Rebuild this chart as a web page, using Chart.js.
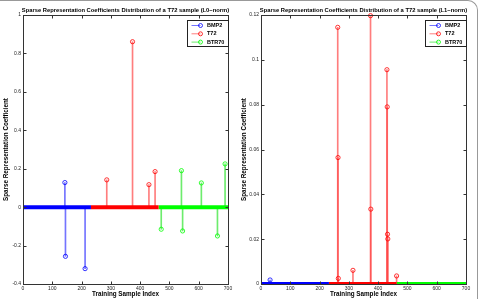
<!DOCTYPE html>
<html lang="en">
<head>
<meta charset="UTF-8">
<title>Sparse Representation Coefficients Distribution</title>
<script src="https://cdn.jsdelivr.net/npm/chart.js"></script>
<style>
  body { margin: 0; background: #fff; }
  .frame { position: relative; width: 478px; height: 299px; overflow: hidden; }
  .panel { position: absolute; top: 0; height: 299px; }
  #left { left: 0; width: 238px; }
  #right { left: 238px; width: 240px; }
  .edge {
    position: absolute; left: -2px; top: 0; width: 479px; height: 310px;
    border-top: 1px solid #999; border-right: 1px solid #999;
    border-top-right-radius: 10px; pointer-events: none;
  }
</style>
</head>
<body>
<div class="frame">
  <div class="panel" id="left"><canvas id="l0Chart"></canvas></div>
  <div class="panel" id="right"><canvas id="l1Chart"></canvas></div>
  <div class="edge"></div>
</div>
<script>
// classes of the training set and their sample index ranges
const classNames = ['BMP2', 'T72', 'BTR70'];
const classColors = ['#0000ff', '#ff0000', '#00ff00'];
const stemColors = ['rgba(70,70,255,0.75)', 'rgba(255,70,70,0.7)', 'rgba(60,230,60,0.75)'];
const classStart = [0, 232, 463];
const classEnd = [232, 463, 700];

// L0-norm solution (non-zero coefficients)
const l0Bmp2X = [143, 145, 212];
const l0Bmp2Y = [0.128, -0.256, -0.32];
const l0T72X = [286, 374, 430, 451];
const l0T72Y = [0.142, 0.861, 0.117, 0.185];
const l0Btr70X = [472, 541, 545, 609, 664, 690];
const l0Btr70Y = [-0.115, 0.19, -0.124, 0.126, -0.15, 0.225];

// L1-norm solution (non-zero coefficients)
const l1Bmp2X = [31];
const l1Bmp2Y = [0.0018];
const l1T72X = [262, 263, 264, 314, 374, 375, 430, 431, 432, 433, 463];
const l1T72Y = [0.1145, 0.0564, 0.0025, 0.0061, 0.1197, 0.0334, 0.0956, 0.079, 0.0222, 0.0201, 0.0036];
const l1Btr70X = [];
const l1Btr70Y = [];

const tickFont = { family: '"Liberation Sans", Arial, sans-serif', size: 5 };
const labelFont = { family: '"Liberation Sans", Arial, sans-serif', size: 6.3, weight: 'bold', lineHeight: 1 };

function pts(xs, ys) {
  return xs.map((x, i) => ({ x: x, y: ys[i] }));
}

// box, inward ticks, title and legend like the matlab figure
const matlabAxes = {
  id: 'matlabAxes',
  afterDraw(chart) {
    const ctx = chart.ctx;
    const a = chart.chartArea;
    const xs = chart.scales.x, ys = chart.scales.y;
    const L = Math.round(a.left) + 0.5, R = Math.round(a.right) + 0.5;
    const T = Math.round(a.top) + 0.5, B = Math.round(a.bottom) + 0.5;
    ctx.save();
    ctx.strokeStyle = '#333';
    ctx.lineWidth = 1;
    ctx.strokeRect(L, T, R - L, B - T);
    ctx.beginPath();
    xs.ticks.forEach(t => {
      const px = Math.round(xs.getPixelForValue(t.value)) + 0.5;
      ctx.moveTo(px, B); ctx.lineTo(px, B - 3);
      ctx.moveTo(px, T); ctx.lineTo(px, T + 3);
    });
    ys.ticks.forEach(t => {
      const py = Math.round(ys.getPixelForValue(t.value)) + 0.5;
      ctx.moveTo(L, py); ctx.lineTo(L + 3, py);
      ctx.moveTo(R, py); ctx.lineTo(R - 3, py);
    });
    ctx.stroke();

    // title
    ctx.fillStyle = '#000';
    ctx.font = 'bold 5.8px "Liberation Sans", Arial, sans-serif';
    ctx.textAlign = 'center';
    ctx.textBaseline = 'middle';
    ctx.fillText(chart.options.plugins.matlabAxes.title, (a.left + a.right) / 2, 10);

    // legend box
    const bw = 41, bh = 26;
    const bx = Math.round(a.right - bw) + 0.5, by = Math.round(a.top + 5) + 0.5;
    ctx.fillStyle = '#fff';
    ctx.fillRect(bx, by, bw, bh);
    ctx.strokeStyle = '#222';
    ctx.strokeRect(bx, by, bw, bh);
    ctx.font = 'bold 5.5px "Liberation Sans", Arial, sans-serif';
    ctx.textAlign = 'left';
    classNames.forEach((name, i) => {
      const ry = by + 5 + i * 8.3;
      ctx.strokeStyle = stemColors[i];
      ctx.beginPath();
      ctx.moveTo(bx + 4, ry); ctx.lineTo(bx + 13, ry);
      ctx.stroke();
      ctx.strokeStyle = classColors[i];
      ctx.lineWidth = 0.8;
      ctx.beginPath();
      ctx.arc(bx + 13, ry, 2, 0, Math.PI * 2);
      ctx.stroke();
      ctx.lineWidth = 1;
      ctx.fillStyle = '#000';
      ctx.fillText(name, bx + 19.5, ry);
    });
    ctx.restore();
  }
};

function makeChart(id, title, xsList, ysList, yMin, yMax, yStep, panelWidth) {
  const datasets = [];
  classNames.forEach((name, i) => {
    datasets.push({
      type: 'line',
      label: name + ' zeros',
      data: [{ x: classStart[i], y: 0 }, { x: classEnd[i], y: 0 }],
      borderColor: classColors[i],
      borderWidth: 4,
      borderCapStyle: 'butt',
      pointRadius: 0,
      order: 0
    });
    datasets.push({
      type: 'scatter',
      label: name,
      data: pts(xsList[i], ysList[i]),
      borderColor: classColors[i],
      backgroundColor: 'transparent',
      pointRadius: 2.1,
      borderWidth: 0.8,
      clip: false,
      order: 1
    });
    datasets.push({
      type: 'bar',
      label: name + ' stems',
      data: pts(xsList[i], ysList[i]),
      backgroundColor: stemColors[i],
      barThickness: 1,
      grouped: false,
      order: 2
    });
  });

  return new Chart(document.getElementById(id), {
    type: 'scatter',
    data: { datasets: datasets },
    options: {
      responsive: true,
      maintainAspectRatio: false,
      animation: false,
      layout: { padding: { top: 15, right: panelWidth - 228, left: 0, bottom: 0 } },
      plugins: {
        legend: { display: false },
        tooltip: { enabled: false },
        matlabAxes: { title: title }
      },
      scales: {
        x: {
          type: 'linear',
          min: 0,
          max: 700,
          offset: false,
          grid: { display: false, drawTicks: false },
          border: { display: false },
          ticks: { stepSize: 100, font: tickFont, color: '#222', padding: 2, maxRotation: 0 },
          title: { display: true, text: 'Training Sample Index', font: labelFont, color: '#000', padding: { top: 0, bottom: 2 } },
          afterFit: s => { s.height = 15; }
        },
        y: {
          min: yMin,
          max: yMax,
          grid: { display: false, drawTicks: false },
          border: { display: false },
          ticks: {
            stepSize: yStep,
            font: tickFont,
            color: '#222',
            padding: 2,
            callback: v => String(parseFloat(v.toFixed(3)))
          },
          title: { display: true, text: 'Sparse Representation Coefficient', font: labelFont, color: '#000', padding: { top: 3, bottom: 0 } },
          afterFit: s => { s.width = 23; }
        }
      }
    },
    plugins: [matlabAxes]
  });
}

makeChart('l0Chart', 'Sparse Representation Coefficients Distribution of a T72 sample (L0\u2212norm)',
  [l0Bmp2X, l0T72X, l0Btr70X], [l0Bmp2Y, l0T72Y, l0Btr70Y], -0.4, 1, 0.2, 238);
makeChart('l1Chart', 'Sparse Representation Coefficients Distribution of a T72 sample (L1\u2212norm)',
  [l1Bmp2X, l1T72X, l1Btr70X], [l1Bmp2Y, l1T72Y, l1Btr70Y], 0, 0.12, 0.02, 240);
</script>
</body>
</html>
